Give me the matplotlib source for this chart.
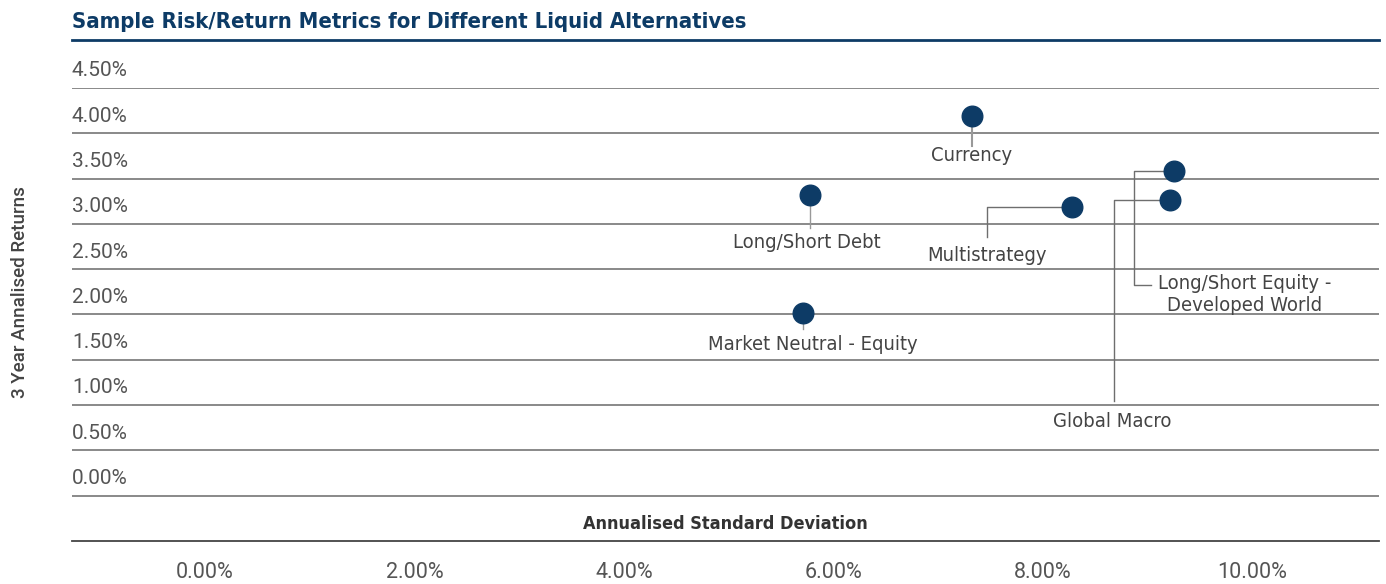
import matplotlib
matplotlib.use("Agg")
import matplotlib.pyplot as plt
from matplotlib import font_manager as fm

names = ["Currency", "Long/Short Debt", "Market Neutral - Equity", "Multistrategy",
         "Long/Short Equity -\nDeveloped World", "Global Macro"]
std_dev = [7.32, 5.78, 5.71, 8.28, 9.25, 9.21]
returns = [4.19, 3.32, 2.02, 3.19, 3.58, 3.26]
y_ticks = [0.0, 0.5, 1.0, 1.5, 2.0, 2.5, 3.0, 3.5, 4.0, 4.5]
x_ticks = [0, 2, 4, 6, 8, 10]


def find_condensed(bold=False):
    cands = []
    for f in fm.fontManager.ttflist:
        nm = f.name.lower()
        st = str(f.stretch).lower()
        if "narrow" in nm or "condensed" in nm or "condensed" in st:
            if "mono" in nm or "serif" in nm and "sans" not in nm:
                continue
            w = f.weight if isinstance(f.weight, int) else (700 if "bold" in str(f.weight) else 400)
            if (w >= 600) == bold and f.style == "normal":
                cands.append(f)
    if cands:
        return fm.FontProperties(fname=cands[0].fname)
    return fm.FontProperties(family="Roboto", weight="bold" if bold else "normal")


cond_reg = find_condensed(False)
cond_bold = find_condensed(True)
num_font = "Roboto"

NAVY = "#0d3b66"
W, H = 1386, 584
fig = plt.figure(figsize=(W / 100, H / 100), dpi=100)
ax = fig.add_axes([72 / W, (H - 541) / H, (1379 - 72) / W, (541 - 88) / H])
ax.set_xlim(-1.27, 11.21)
ax.set_ylim(-0.5, 4.5)
ax.axis("off")

for yv in y_ticks:
    ax.axhline(yv, color="#808080", lw=1.3, zorder=1)
    ax.annotate(f"{yv:.2f}%", xy=(0, yv), xycoords=("axes fraction", "data"),
                xytext=(0, 5.5), textcoords="offset points", ha="left", va="bottom",
                fontsize=15, color="#555555", family=num_font)
ax.axhline(-0.5, color="#444444", lw=1.3, zorder=1, clip_on=False)

for xv in x_ticks:
    ax.annotate(f"{xv:.2f}%", xy=(xv, 0), xycoords=("data", "axes fraction"),
                xytext=(0, -22.5), textcoords="offset points", ha="center", va="center",
                fontsize=15.5, color="#555555", family=num_font)

ax.scatter(std_dev, returns, s=220, color=NAVY, zorder=5)

lc = "#6e6e6e"
lw = 1.0
lab_kw = dict(color="#444444", zorder=6)
cp = cond_reg.copy()
cp.set_size(14.5)
# Currency
x, y = std_dev[0], returns[0]
ax.plot([x, x], [y, 3.86], color="#999999", lw=1.5, zorder=2)
ax.text(x, 3.75, names[0], ha="center", va="center", fontproperties=cp, **lab_kw)
# Long/Short Debt
x, y = std_dev[1], returns[1]
ax.plot([x, x], [y, 2.95], color="#999999", lw=1.0, zorder=2)
ax.text(x - 0.03, 2.79, names[1], ha="center", va="center", fontproperties=cp, **lab_kw)
# Market Neutral
x, y = std_dev[2], returns[2]
ax.plot([x, x], [y, 1.84], color="#999999", lw=1.0, zorder=2)
ax.text(x + 0.09, 1.67, names[2], ha="center", va="center", fontproperties=cp, **lab_kw)
# Multistrategy
x, y = std_dev[3], returns[3]
ax.plot([x, 7.47, 7.47], [y, y, 2.86], color=lc, lw=lw, zorder=2)
ax.text(7.47, 2.65, names[3], ha="center", va="center", fontproperties=cp, **lab_kw)
# Long/Short Equity
x, y = std_dev[4], returns[4]
ax.plot([x, 8.87, 8.87, 9.03], [y, y, 2.33, 2.33], color=lc, lw=lw, zorder=2)
ax.text(9.93, 2.22, names[4], ha="center", va="center", multialignment="center",
        linespacing=1.15, fontproperties=cp, **lab_kw)
# Global Macro
x, y = std_dev[5], returns[5]
ax.plot([x, 8.68, 8.68], [y, y, 1.05], color=lc, lw=lw, zorder=2)
ax.text(8.66, 0.82, names[5], ha="center", va="center", fontproperties=cp, **lab_kw)

# axis titles
xt = cond_bold.copy()
xt.set_size(13)
fig.text(725 / W, 1 - 524 / H, "Annualised Standard Deviation", ha="center", va="center",
         color="#333333", fontproperties=xt)
fig.text(20 / W, 1 - 292 / H, "3 Year Annalised Returns", ha="center", va="center",
         rotation=90, fontsize=13.5, color="#444444", family=num_font, fontweight="medium")

# title
tp = cond_bold.copy()
tp.set_size(15.8)
fig.text(72 / W, 1 - 22 / H, "Sample Risk/Return Metrics for Different Liquid Alternatives",
         ha="left", va="center", color=NAVY, fontproperties=tp)
fig.add_artist(plt.Line2D([72 / W, 1379 / W], [1 - 40 / H, 1 - 40 / H], color=NAVY, lw=2))

fig.savefig("out.png", dpi=100)
